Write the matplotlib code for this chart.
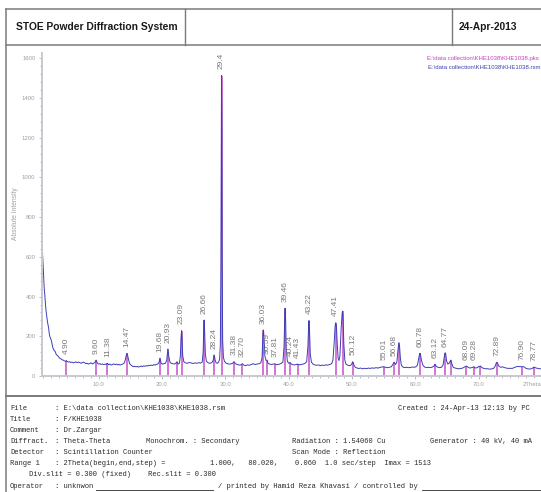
import matplotlib

matplotlib.use("Agg")
import matplotlib.pyplot as plt
from matplotlib import font_manager
from matplotlib.lines import Line2D
from matplotlib.ticker import MultipleLocator

# Scan (2Theta, counts)
two_theta = [
    1.00, 1.10, 1.20, 1.30, 1.40, 1.50, 1.60, 1.70, 1.80, 1.90, 2.00, 2.10, 2.20, 2.30, 2.40,
    2.50, 2.60, 2.70, 2.80, 2.90, 3.00, 3.15, 3.30, 3.45, 3.60, 3.75, 3.90, 4.05, 4.20, 4.40,
    4.60, 4.80, 4.90, 5.00, 5.20, 5.40, 5.60, 5.80, 6.00, 6.20, 6.40, 6.60, 6.80, 7.00, 7.20,
    7.40, 7.60, 7.80, 8.00, 8.20, 8.40, 8.60, 8.80, 9.00, 9.20, 9.40, 9.60, 9.80, 10.00, 10.20,
    10.40, 10.60, 10.80, 11.00, 11.20, 11.38, 11.55, 11.80, 12.00, 12.20, 12.40, 12.60, 12.80,
    13.00, 13.20, 13.40, 13.60, 13.80, 14.00, 14.20, 14.35, 14.47, 14.60, 14.75, 14.90, 15.10,
    15.30, 15.50, 15.70, 15.90, 16.10, 16.30, 16.50, 16.70, 16.90, 17.10, 17.30, 17.50, 17.70,
    17.90, 18.10, 18.30, 18.50, 18.70, 18.90, 19.10, 19.30, 19.50, 19.68, 19.85, 20.05, 20.30,
    20.55, 20.75, 20.93, 21.08, 21.25, 21.45, 21.70, 21.95, 22.15, 22.36, 22.55, 22.75, 22.90,
    23.00, 23.09, 23.17, 23.28, 23.45, 23.70, 24.00, 24.30, 24.60, 24.90, 25.20, 25.50, 25.80,
    26.10, 26.35, 26.50, 26.60, 26.66, 26.74, 26.85, 27.00, 27.30, 27.60, 27.90, 28.10, 28.24,
    28.38, 28.55, 28.75, 28.95, 29.10, 29.22, 29.30, 29.36, 29.40, 29.45, 29.50, 29.58, 29.70,
    29.85, 30.05, 30.30, 30.60, 30.90, 31.15, 31.38, 31.60, 31.85, 32.10, 32.40, 32.70, 32.95,
    33.20, 33.50, 33.80, 34.10, 34.40, 34.70, 35.00, 35.30, 35.60, 35.80, 35.95, 36.03, 36.12,
    36.25, 36.45, 36.59, 36.75, 37.00, 37.30, 37.55, 37.81, 38.05, 38.30, 38.60, 38.85, 39.10,
    39.28, 39.40, 39.46, 39.53, 39.62, 39.80, 40.00, 40.24, 40.50, 40.80, 41.10, 41.43, 41.70,
    42.00, 42.30, 42.60, 42.85, 43.05, 43.17, 43.22, 43.30, 43.42, 43.60, 43.85, 44.10, 44.40,
    44.70, 45.00, 45.30, 45.60, 45.90, 46.20, 46.50, 46.80, 47.00, 47.20, 47.35, 47.45, 47.55,
    47.68, 47.82, 47.95, 48.10, 48.30, 48.45, 48.52, 48.60, 48.72, 48.88, 49.05, 49.30, 49.60,
    49.85, 50.00, 50.12, 50.25, 50.50, 50.80, 51.10, 51.40, 51.70, 52.00, 52.30, 52.60, 52.90,
    53.20, 53.50, 53.80, 54.10, 54.40, 54.70, 55.01, 55.30, 55.60, 55.90, 56.20, 56.45, 56.68,
    56.90, 57.10, 57.30, 57.42, 57.52, 57.65, 57.80, 58.00, 58.30, 58.60, 58.90, 59.20, 59.50,
    59.80, 60.10, 60.35, 60.55, 60.70, 60.78, 60.90, 61.05, 61.25, 61.50, 61.80, 62.10, 62.40,
    62.70, 62.95, 63.12, 63.30, 63.55, 63.85, 64.15, 64.40, 64.60, 64.72, 64.82, 64.95, 65.15,
    65.40, 65.60, 65.78, 66.00, 66.30, 66.60, 66.90, 67.20, 67.50, 67.80, 68.09, 68.35, 68.60,
    68.90, 69.10, 69.28, 69.50, 69.80, 70.05, 70.30, 70.55, 70.85, 71.15, 71.45, 71.75, 72.05,
    72.35, 72.60, 72.80, 72.89, 73.00, 73.20, 73.50, 73.80, 74.10, 74.40, 74.70, 75.00, 75.30,
    75.60, 75.90, 76.20, 76.50, 76.90, 77.20, 77.50, 77.80, 78.10, 78.40, 78.77, 79.10, 79.40,
    79.70, 80.02,
]
counts = [
    690, 640, 570, 500, 440, 405, 360, 325, 300, 275, 258, 240, 212, 198, 190,
    182, 168, 150, 140, 132, 128, 122, 108, 104, 100, 92, 89, 86, 82, 80,
    76, 74, 78, 74, 70, 72, 68, 70, 66, 69, 71, 67, 70, 68, 64,
    67, 70, 66, 62, 64, 60, 63, 66, 61, 64, 68, 80, 65, 60, 62,
    58, 61, 57, 60, 58, 64, 57, 60, 55, 58, 61, 57, 60,
    56, 59, 55, 58, 60, 64, 80, 104, 114, 100, 78, 62, 55,
    50, 47, 49, 46, 48, 45, 48, 50, 47, 51, 49, 52, 50,
    54, 52, 55, 53, 57, 55, 58, 60, 66, 89, 64, 60, 62,
    64, 80, 136, 98, 70, 64, 62, 60, 63, 72, 60, 64, 100,
    190, 228, 180, 100, 72, 66, 64, 68, 66, 63, 66, 64, 67,
    65, 70, 120, 250, 282, 220, 110, 75, 66, 64, 68, 80, 106,
    82, 66, 64, 70, 85, 160, 560, 1250, 1513, 1300, 600, 180, 95,
    75, 66, 62, 60, 61, 64, 72, 62, 58, 56, 55, 62, 54,
    52, 56, 54, 58, 62, 58, 60, 62, 66, 90, 210, 232, 190,
    100, 78, 80, 64, 60, 58, 60, 62, 57, 58, 60, 64, 70,
    150, 320, 341, 280, 140, 75, 64, 68, 58, 56, 57, 60, 56,
    58, 60, 64, 72, 150, 265, 279, 230, 110, 70, 60, 56, 54,
    56, 52, 55, 53, 56, 55, 58, 62, 80, 170, 255, 269, 250,
    160, 90, 78, 100, 240, 315, 327, 290, 160, 80, 60, 55, 52,
    55, 62, 72, 60, 45, 40, 38, 40, 36, 39, 37, 40, 38,
    41, 39, 42, 40, 43, 45, 47, 44, 42, 44, 46, 58, 69,
    58, 70, 140, 168, 150, 90, 55, 46, 42, 44, 42, 43, 45,
    44, 46, 55, 90, 112, 114, 95, 70, 52, 45, 42, 44, 42,
    45, 50, 59, 50, 44, 42, 44, 55, 100, 117, 110, 75, 60,
    66, 80, 62, 44, 40, 38, 36, 38, 40, 46, 50, 44, 40,
    42, 44, 47, 40, 42, 48, 50, 42, 38, 36, 37, 34, 36,
    38, 48, 66, 69, 64, 50, 44, 46, 42, 40, 38, 39, 38,
    42, 46, 48, 47, 47, 46, 38, 36, 35, 37, 45, 40, 38,
    36, 37,
]

# Peak list (.pks) - position, height, label
pk_pos = [4.90, 9.60, 11.38, 14.47, 19.68, 20.93, 22.36, 23.09, 26.66, 28.24, 29.40, 31.38,
          32.70, 36.03, 36.59, 37.81, 39.46, 40.24, 41.43, 43.22, 47.41, 48.52, 50.12, 55.01,
          56.68, 57.45, 60.78, 63.12, 64.77, 65.62, 68.09, 69.28, 70.30, 72.89, 76.90, 78.77]
pk_height = [78, 80, 64, 114, 89, 136, 72, 228, 282, 106, 1513, 72,
             62, 232, 80, 62, 341, 68, 60, 279, 269, 327, 72, 47,
             69, 168, 114, 59, 117, 80, 50, 47, 50, 69, 47, 45]
pk_label = ["4.90", "9.60", "11.38", "14.47", "19.68", "20.93", "", "23.09", "26.66", "28.24",
            "29.4", "31.38", "32.70", "36.03", "36.59", "37.81", "39.46", "40.24", "41.43",
            "43.22", "47.41", "", "50.12", "55.01", "56.68", "", "60.78", "63.12", "64.77", "",
            "68.09", "69.28", "", "72.89", "76.90", "78.77"]

x_ticks = [10, 20, 30, 40, 50, 60, 70]
x_tick_labels = ["10.0", "20.0", "30.0", "40.0", "50.0", "60.0", "70.0"]
y_ticks = [0, 200, 400, 600, 800, 1000, 1200, 1400, 1600]

footer_rows = [
    [("File", 10), (": E:\\data collection\\KHE1038\\KHE1038.rsm", 55),
     ("Created : 24-Apr-13 12:13 by PC", 398)],
    [("Title", 10), (": F/KHE1038", 55)],
    [("Comment", 10), (": Dr.Zargar", 55)],
    [("Diffract.", 10), (": Theta-Theta", 55), ("Monochrom. : Secondary", 146),
     ("Radiation : 1.54060 Cu", 292), ("Generator : 40 kV, 40 mA", 430)],
    [("Detector", 10), (": Scintillation Counter", 55), ("Scan Mode : Reflection", 292)],
    [("Range 1", 10), (": 2Theta(begin,end,step) =", 55),
     ("1.000,   80.020,    0.060  1.0 sec/step  Imax = 1513", 210)],
    [("Div.slit = 0.300 (fixed)    Rec.slit = 0.300", 29)],
    [("Operator", 10), (": unknwon", 55), ("/ printed by Hamid Reza Khavasi / controlled by", 218)],
]

W, H = 541, 492


def fx(x):
    return x / W


def fy(y):
    return 1 - y / H


def has_font(name):
    try:
        font_manager.findfont(name, fallback_to_default=False)
        return True
    except ValueError:
        return False


narrow = has_font("Liberation Sans Narrow")
head_family = "Liberation Sans Narrow" if narrow else "Liberation Sans"
head_size = 9.0 if narrow else 7.4

fig = plt.figure(figsize=(W / 100, H / 100), dpi=100)
fig.patch.set_facecolor("white")

# page frame
frame_col = "#7a7a7a"
for (x0, y0, x1, y1, lw) in [
    (6, 9, 541, 9, 1.1), (6, 45, 541, 45, 1.1), (6, 9, 6, 492, 1.1),
    (185, 9, 185, 45, 1.0), (452, 9, 452, 45, 1.0), (6, 396, 541, 396, 1.4),
]:
    fig.add_artist(Line2D([fx(x0), fx(x1)], [fy(y0), fy(y1)], color=frame_col, lw=lw))

fig.text(fx(16), fy(27), "STOE Powder Diffraction System", family=head_family,
         fontsize=head_size, fontweight="bold", color="#1a1a1a", va="center")
fig.text(fx(459), fy(27), "24-Apr-2013", family=head_family,
         fontsize=head_size, fontweight="bold", color="#1a1a1a", va="center")

# main plot
ax = fig.add_axes([fx(41.7), fy(376), (542 - 41.7) / W, (376 - 53) / H])
ax.vlines(pk_pos, 0, pk_height, color="#c452c8", lw=1.1, zorder=1)
ax.plot(two_theta, counts, color="#3c3cb8", lw=0.7, zorder=2)

for p, h, lbl in zip(pk_pos, pk_height, pk_label):
    if lbl:
        ax.annotate(lbl, (p, h), xytext=(0, 4.5), textcoords="offset points",
                    rotation=90, ha="center", va="bottom", fontsize=6,
                    family="Liberation Sans", color="#7a7a7a", annotation_clip=False)

ax.set_xlim(1.0, 80.02)
ax.set_ylim(0, 1627)
for s in ["top", "right"]:
    ax.spines[s].set_visible(False)
for s in ["left", "bottom"]:
    ax.spines[s].set_color("#c8c8d0")
    ax.spines[s].set_linewidth(1.4)

ax.set_xticks(x_ticks)
ax.set_xticklabels(x_tick_labels)
ax.xaxis.set_minor_locator(MultipleLocator(1.25))
ax.set_yticks(y_ticks)
ax.yaxis.set_minor_locator(MultipleLocator(40))
ax.tick_params(which="both", colors="#b0b0b0", labelcolor="#a0a0a0", labelsize=4.3, width=0.6)
ax.tick_params(which="major", length=2.5, pad=2)
ax.tick_params(which="minor", length=1.5)
for t in ax.get_xticklabels() + ax.get_yticklabels():
    t.set_family("Liberation Sans")

ax.text(1.0, -0.027, "2Theta", transform=ax.transAxes, ha="right", va="center",
        fontsize=4.3, family="Liberation Sans", color="#a0a0a0")
fig.text(fx(15.5), fy(214), "Absolute Intensity", rotation=90, ha="center", va="center",
         fontsize=4.8, family="Liberation Sans", color="#a0a0a0")

fig.text(fx(539), fy(58.3), "E:\\data collection\\KHE1038\\KHE1038.pks", ha="right",
         va="center", fontsize=4.3, family="Liberation Sans", color="#c040c0")
fig.text(fx(540), fy(67.7), "E:\\data collection\\KHE1038\\KHE1038.rsm", ha="right",
         va="center", fontsize=4.3, family="Liberation Sans", color="#4040b0")

# footer text
for i, row in enumerate(footer_rows):
    y = 408.3 + i * 11.1
    for txt, x in row:
        fig.text(fx(x), fy(y), txt, family="Liberation Mono", fontsize=5.1,
                 color="#2a2a2a", va="center")

for (x0, x1) in [(96, 213), (422, 541)]:
    fig.add_artist(Line2D([fx(x0), fx(x1)], [fy(489.5), fy(489.5)], color="#2a2a2a", lw=0.6))

fig.savefig("out.png", dpi=100)
